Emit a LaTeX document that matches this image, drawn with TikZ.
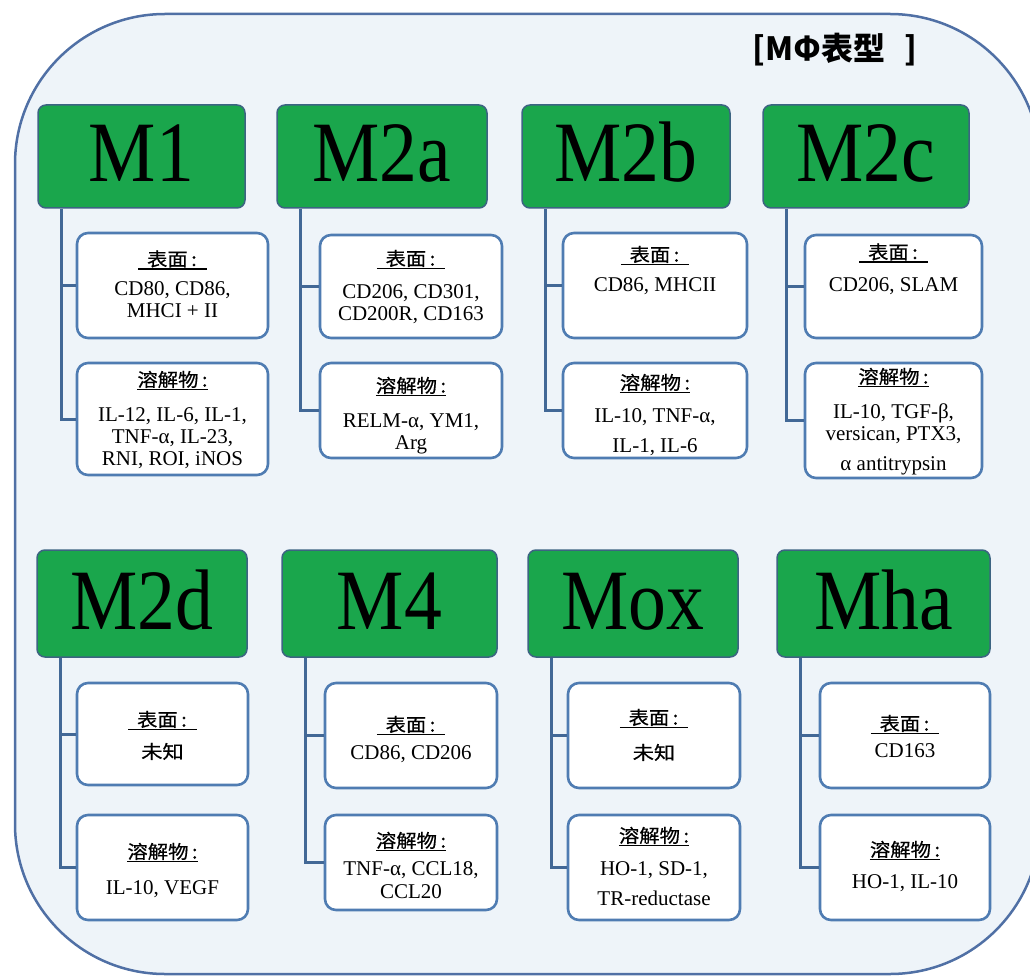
\documentclass[tikz,border=0pt]{standalone}
\usepackage{fontspec}
\setmainfont{Liberation Serif}
\newfontfamily\cjk{Noto Sans CJK SC}[FakeBold=0.5]
\newfontfamily\cjkt{Noto Sans CJK SC}
\usetikzlibrary{calc}
\definecolor{framefill}{RGB}{238,244,249}
\definecolor{framedraw}{RGB}{80,112,165}
\definecolor{cardblue}{RGB}{79,124,178}
\definecolor{conncol}{RGB}{66,104,150}
\definecolor{hgreen}{RGB}{26,166,76}
\definecolor{hdrdraw}{RGB}{60,100,130}
\newcommand\ulbox[1]{\vtop{\hbox{#1}\kern0.8pt\hrule height1.5pt}}
\newcommand\labS{\ulbox{\scalebox{1.1}[1]{\hspace{8pt}表面\,:\hspace{9pt}}}}
\newcommand\labD{\ulbox{\scalebox{1.1}[1]{溶解物\,:}}}
\newcommand\cj[1]{\scalebox{1.15}[1]{#1}}
\newcommand\hd[1]{\scalebox{0.88}[1]{#1}}
\tikzset{
 frame/.style={draw=framedraw, line width=2.5pt, fill=framefill, rounded corners=150pt},
 hdr/.style={rectangle, rounded corners=8pt, fill=hgreen, draw=hdrdraw, line width=1.5pt, inner sep=0pt,
   font=\fontsize{86}{86}\selectfont, text height=51pt, text depth=0pt},
 card/.style={rectangle, rounded corners=11pt, fill=white, draw=cardblue, line width=2.6pt, inner sep=0pt},
 conn/.style={draw=conncol, line width=3pt},
 lab/.style={inner sep=0pt, anchor=base, font=\cjk\fontsize{18.5}{20}\selectfont},
 body/.style={inner sep=0pt, anchor=north, align=center, font=\fontsize{21}{22}\selectfont},
 ttl/.style={inner sep=0pt, font=\cjkt\bfseries\fontsize{32}{36}\selectfont},
}
\begin{document}
\begin{tikzpicture}[x=1pt,y=-1pt]
\useasboundingbox (0,0) rectangle (1030,976);
\path[frame] (15,14) rectangle (1040,974);
\node[ttl] (title) at (835,49.5) {[MΦ表型\hspace{0.6em}]};

% headers
\node[hdr, minimum width=207, minimum height=103] (h1) at (141.5,156.5) {\hd{M1}};
\node[hdr, minimum width=210, minimum height=103] (h2) at (382,156.5) {\hd{M2a}};
\node[hdr, minimum width=208, minimum height=103] (h3) at (626,156.5) {\hd{M2b}};
\node[hdr, minimum width=206, minimum height=103] (h4) at (866,156.5) {\hd{M2c}};
\node[hdr, minimum width=210, minimum height=107] (h5) at (142,603.5) {\hd{M2d}};
\node[hdr, minimum width=215, minimum height=107] (h6) at (389.5,603.5) {\hd{M4}};
\node[hdr, minimum width=210, minimum height=107] (h7) at (633,603.5) {\hd{Mox}};
\node[hdr, minimum width=213, minimum height=107] (h8) at (883.5,603.5) {\hd{Mha}};

% cards
\node[card, minimum width=191, minimum height=105] (s1) at (172.5,285.5) {};
\node[card, minimum width=191, minimum height=112] (d1) at (172.5,419) {};
\node[card, minimum width=182, minimum height=103] (s2) at (411,286.5) {};
\node[card, minimum width=182, minimum height=95] (d2) at (411,410.5) {};
\node[card, minimum width=184, minimum height=105] (s3) at (655,285.5) {};
\node[card, minimum width=184, minimum height=95] (d3) at (655,410.5) {};
\node[card, minimum width=177, minimum height=103] (s4) at (893.5,286.5) {};
\node[card, minimum width=177, minimum height=115] (d4) at (893.5,420.5) {};
\node[card, minimum width=171, minimum height=102] (s5) at (162.5,734) {};
\node[card, minimum width=171, minimum height=105] (d5) at (162.5,867.5) {};
\node[card, minimum width=172, minimum height=105] (s6) at (411,735.5) {};
\node[card, minimum width=172, minimum height=95] (d6) at (411,862.5) {};
\node[card, minimum width=172, minimum height=105] (s7) at (654,735.5) {};
\node[card, minimum width=172, minimum height=105] (d7) at (654,867.5) {};
\node[card, minimum width=170, minimum height=105] (s8) at (905,735.5) {};
\node[card, minimum width=170, minimum height=105] (d8) at (905,867.5) {};

% connectors
\foreach \i in {1,...,8} {
  \coordinate (t\i) at ($(h\i.south west)+(24,0)$);
  \draw[conn] (t\i) |- (d\i.west);
  \draw[conn] (t\i |- s\i.west) -- (s\i.west);
}

% labels
\node[lab] (ls1) at (172.5,266) {\labS};
\node[lab] (ld1) at (172.5,386.5) {\labD};
\node[lab] (ls2) at (411,265.5) {\labS};
\node[lab] (ld2) at (411,392.5) {\labD};
\node[lab] (ls3) at (655,261.5) {\labS};
\node[lab] (ld3) at (655,389.5) {\labD};
\node[lab] (ls4) at (893.5,259) {\labS};
\node[lab] (ld4) at (893.5,383.5) {\labD};
\node[lab] (ls5) at (162.5,726.5) {\labS};
\node[lab] (ld5) at (162.5,858.5) {\labD};
\node[lab] (ls6) at (411,731.5) {\labS};
\node[lab] (ld6) at (411,847.5) {\labD};
\node[lab] (ls7) at (654,724.5) {\labS};
\node[lab] (ld7) at (654,842.5) {\labD};
\node[lab] (ls8) at (905,730.5) {\labS};
\node[lab] (ld8) at (905,856.5) {\labD};

% bodies
\node[body] (bs1) at (172.5,281.5) {CD80, CD86,\\ MHCI + II};
\node[body] (bd1) at (172.5,407.5) {IL-12, IL-6, IL-1,\\ TNF-α, IL-23,\\ RNI, ROI, iNOS};
\node[body] (bs2) at (411,284.5) {CD206, CD301,\\ CD200R, CD163};
\node[body] (bd2) at (411,413.5) {RELM-α, YM1,\\ Arg};
\node[body] (bs3) at (655,277.5) {CD86, MHCII};
\node[body] (bd3) at (655,408.5) {IL-10, TNF-α,\\[8pt] IL-1, IL-6};
\node[body] (bs4) at (893.5,277.5) {CD206, SLAM};
\node[body] (bd4) at (893.5,403.5) {IL-10, TGF-β,\\ versican, PTX3,\\[8pt] α antitrypsin};
\node[lab] (bs5) at (162.5,758.5) {\cj{未知}};
\node[body] (bd5) at (162.5,880.5) {IL-10, VEGF};
\node[body] (bs6) at (411,745.5) {CD86, CD206};
\node[body] (bd6) at (411,861.5) {TNF-α, CCL18,\\[1pt] CCL20};
\node[lab] (bs7) at (654,759.5) {\cj{未知}};
\node[body] (bd7) at (654,861.5) {HO-1, SD-1,\\[8pt] TR-reductase};
\node[body] (bs8) at (905,743.5) {CD163};
\node[body] (bd8) at (905,874.5) {HO-1, IL-10};
\end{tikzpicture}
\end{document}
